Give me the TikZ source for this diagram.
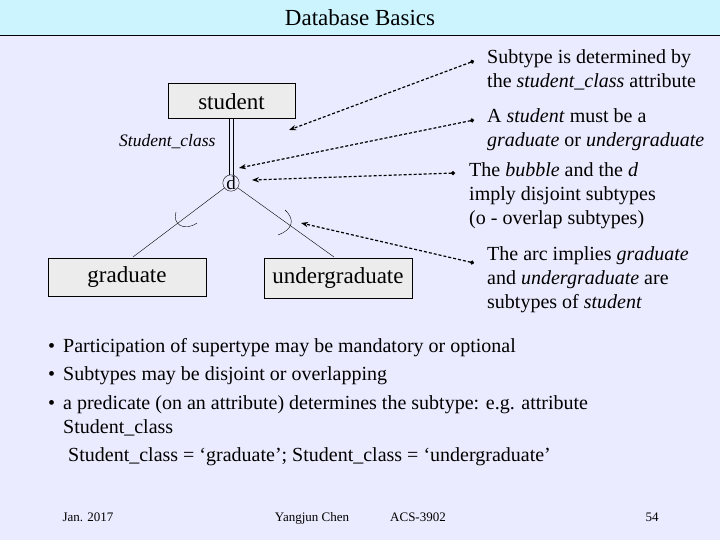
\documentclass[tikz,border=0pt]{standalone}
\usepackage{fontspec}
\setmainfont{Liberation Serif}
\usetikzlibrary{arrows.meta}
\tikzstyle{entity} = [rectangle, draw, line width=1pt, fill=gray!15, inner sep=0pt, font=\fontsize{23}{25}\selectfont]
\tikzstyle{note} = [anchor=north west, align=left, inner sep=0pt, font=\fontsize{20}{24}\selectfont]
\tikzstyle{foot} = [anchor=base, font=\fontsize{13}{15}\selectfont]
\tikzstyle{line} = [draw, densely dashed, line width=1.2pt, {Circle[length=4pt]}-{Stealth[length=7pt]}]
\newcommand{\bul}{\makebox[15pt][l]{\textbullet}}
\begin{document}
\begin{tikzpicture}[x=1pt,y=-1pt]
\useasboundingbox (0,0) rectangle (720,540);
\fill[blue!8] (0,0) rectangle (720,540);
\fill[blue!22!cyan!20] (0,0) rectangle (720,36);
\draw[line width=1pt] (0,36) -- (720,36);
\node (title) at (360,18) {\fontsize{23}{25}\selectfont Database Basics};

\node [entity, minimum width=127, minimum height=35] (student) at (231.5,101.5) {student};
\node [entity, minimum width=158, minimum height=38] (grad) at (127,277) {graduate};
\node [entity, minimum width=148, minimum height=40] (ugrad) at (338,278) {undergraduate};
\node [circle, draw, inner sep=0pt, minimum size=15pt, font=\fontsize{19}{19}\selectfont] (d) at (231,183) {d};
\node [font=\fontsize{17.5}{19}\selectfont\itshape, anchor=east] (attr) at (219,142) {Student\_class};
\draw (229,119) -- (229,175.5);
\draw (233,119) -- (233,175.5);
\draw (d) -- (133,257);
\draw (d) -- (334,257);
\draw (176,212) .. controls (172,224) and (184,232) .. (197,223);
\draw (285,210) .. controls (296,220) and (292,230) .. (278,235);

\node [note] (n1) at (487,49) {Subtype is determined by\\the \textit{student\_class} attribute};
\node [note] (n2) at (487,108) {A \textit{student} must be a\\\textit{graduate} or \textit{undergraduate}};
\node [note] (n3) at (469,162) {The \textit{bubble} and the \textit{d}\\imply disjoint subtypes\\(o - overlap subtypes)};
\node [note] (n4) at (487,246) {The arc implies \textit{graduate}\\and \textit{undergraduate} are\\subtypes of \textit{student}};
\coordinate (c1) at (474,61);
\coordinate (c2) at (474,120);
\coordinate (c3) at (455,173);
\coordinate (c4) at (474,263);
\coordinate (t1) at (289,130);
\coordinate (t2) at (239,168);
\coordinate (t3) at (252,180);
\coordinate (t4) at (301,223);
\path [line] (c1) -- (t1);
\path [line] (c2) -- (t2);
\path [line] (c3) -- (t3);
\path [line] (c4) -- (t4);

\node [note, font=\fontsize{20}{28.5}\selectfont] (bullets) at (48,338)
 {\bul Participation of supertype may be mandatory or optional\\
  \bul Subtypes may be disjoint or overlapping\\
  \bul a predicate (on an attribute) determines the subtype: e.g. attribute};
\node [note] (line4) at (63,419) {Student\_class};
\node [note] (line5) at (68,447) {Student\_class = ‘graduate’; Student\_class = ‘undergraduate’};

\node [foot] (date) at (88,521) {Jan. 2017};
\node [foot] (auth) at (312,521) {Yangjun Chen};
\node [foot] (course) at (418,521) {ACS-3902};
\node [foot] (page) at (652,521) {54};
\end{tikzpicture}
\end{document}
